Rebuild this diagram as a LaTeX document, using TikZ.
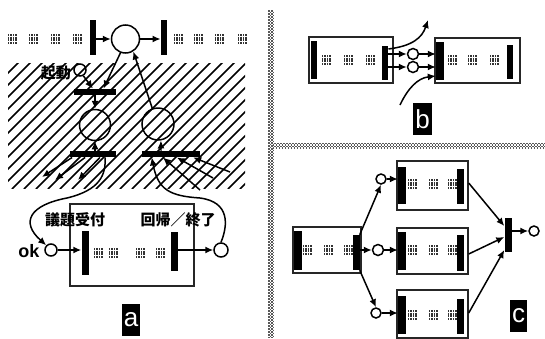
\documentclass[tikz,border=0pt]{standalone}
\usepackage{fontspec}
\newfontfamily\cjk{Noto Sans CJK JP}
\setmainfont{Liberation Sans}
\usetikzlibrary{arrows.meta,calc}
\tikzset{
  x=1pt,y=-1pt,
  bar/.style={rectangle,fill=black,draw=none,inner sep=0pt,minimum width=#1},
  vbar/.style args={#1 by #2}{bar=#1,minimum height=#2},
  hbar/.style args={#1 by #2}{bar=#1,minimum height=#2},
  place/.style={circle,draw=black,line width=1.5pt,inner sep=0pt,minimum size=#1},
  wplace/.style={place=#1,fill=white},
  boxnode/.style={rectangle,draw=black!85,line width=1.4pt,inner sep=0pt},
  arc/.style={line width=1.5pt,-{Latex[length=8pt,width=7pt]}},
  sepa/.style={line width=1.5pt,black!65,dash pattern=on 1.5pt off 1.5pt},
  sepb/.style={line width=1.5pt,black!65,dash pattern=on 1.5pt off 1.5pt,dash phase=1.5pt},
  tag/.style={rectangle,fill=black,text=white,inner sep=0pt,font=\fontsize{26}{26}\selectfont},
  jlabel/.style={inner sep=0pt,font=\cjk\bfseries\fontsize{15}{15}\selectfont},
  smudge/.pic={
    \foreach \d in {-3.5,-1,1.5,4}
      \draw[black!80,line width=1.5pt,dash pattern=on 2pt off 0.7pt] (\d,-5) -- (\d,5);
  }
}
\begin{document}
\begin{tikzpicture}
\useasboundingbox (0,0) rectangle (545,338);
\fill[white] (0,0) rectangle (545,338);
% hatching
\begin{scope}
\clip (8,63) rectangle (245,188);
\foreach \h in {-120,-108,...,245}
  \draw[line width=1.5pt] (\h,189) -- ++(127,-127);
\end{scope}
% separators
\coordinate (va) at (271,10);
\coordinate (vb) at (271,338);
\coordinate (ha) at (271,145.5);
\coordinate (hb) at (545,145.5);
\foreach \s/\k in {-2/sepa,-0.5/sepb,1/sepa,2.5/sepb} {
  \draw[\k] ($(va)+(\s,0)$) -- ($(vb)+(\s,0)$);
  \draw[\k] ($(ha)+(0,\s)$) -- ($(hb)+(0,\s)$);
}

% panel a, top
\node[vbar=6.5pt by 35pt] (t1) at (93,37) {};
\node[vbar=6.5pt by 35pt] (t2) at (164,37) {};
\node[wplace=28pt] (p0) at (125.5,39) {};
\foreach \x in {12,33,55,77,178,198,219,242} \pic at (\x,39) {smudge};
\draw[arc] (t1.east |- p0) -- (p0);
\draw[arc] (p0) -- (t2.west |- p0);

\node[place=12pt] (start) at (80,70) {};
\node[jlabel,anchor=east] (lstart) at (71,73) {起動};
\node[hbar=42pt by 6.5pt] (b1) at (95,92) {};
\node[place=31pt] (p1) at (95,125) {};
\node[hbar=46pt by 6.5pt] (b2) at (93,154) {};
\node[place=32pt] (p2) at (158,124) {};
\node[hbar=58pt by 6.5pt] (b3) at (171,154) {};
\draw[arc] (p0.250) -- ($(b1.north west)!0.7!(b1.north east)$);
\draw[arc] (start.300) -- ($(b1.north west)!0.45!(b1.north east)$);
\draw[arc] (b1) -- (p1);
\draw[arc] (b2.north -| p1) -- (p1);
\draw[arc] (p2.110) -- (p0.-58);
\draw[arc] (b3.north -| 161,0) -- (p2.-80);

\coordinate (o1) at (42,177);
\coordinate (o2) at (55,180);
\coordinate (o3) at (78,180);
\coordinate (i1) at (230,172);
\coordinate (i2) at (213,178);
\coordinate (i3) at (200,190);
\draw[arc] ($(b2.south west)!0.05!(b2.south east)$) -- (o1);
\draw[arc] ($(b2.south west)!0.33!(b2.south east)$) -- (o2);
\draw[arc] ($(b2.south west)!0.65!(b2.south east)$) -- (o3);
\draw[arc] (i1) -- ($(b3.south west)!0.88!(b3.south east)$);
\draw[arc] (i2) -- ($(b3.south west)!0.6!(b3.south east)$);
\draw[arc] (i3) -- ($(b3.south west)!0.36!(b3.south east)$);

% panel a, box
\node[boxnode,minimum width=124pt,minimum height=82pt] (boxa) at (132,245) {};
\node[vbar=7pt by 44pt] (ba1) at (85,253) {};
\node[vbar=7pt by 39pt] (ba2) at (174,251.5) {};
\node[wplace=12pt] (ok) at (51,250) {};
\node[wplace=14pt] (end) at (221,250) {};
\node[inner sep=0pt,font=\bfseries\fontsize{18}{18}\selectfont] (lok) at (29,251) {ok};
\node[jlabel] (l1) at (75,220) {議題受付};
\node[jlabel] (l2) at (178,220) {回帰／終了};
\foreach \x in {98,113,140,160} \pic at (\x,253) {smudge};
\draw[arc] (ok) -- (ba1.west |- ok);
\draw[arc] (ba2.east |- end) -- (end);
\draw[line width=1.5pt,-{Latex[length=8pt,width=7pt]}] ($(b2.south west)!0.76!(b2.south east)$) .. controls (106,175) and (100,190) .. (67,198)
   .. controls (30,205) and (20,222) .. (ok.north west);
\draw[arc] (end.north) .. controls (228,225) and (230,202) .. (200,198)
   .. controls (170,196) and (158,190) .. ($(b3.south west)!0.17!(b3.south east)$);
\node[tag,minimum width=18pt,minimum height=32pt] (ta) at (131,320) {a};

% panel b
\node[boxnode,minimum width=84pt,minimum height=46pt] (bx1) at (351,60) {};
\node[boxnode,minimum width=85pt,minimum height=45pt] (bx2) at (477.5,60.5) {};
\node[vbar=6.5pt by 38pt] (b1l) at (314,60) {};
\node[vbar=6.5pt by 34pt] (b1r) at (385,63) {};
\node[vbar=8pt by 38pt] (b2l) at (440,61) {};
\node[vbar=6.5pt by 34pt] (b2r) at (510,62) {};
\foreach \x in {326,348,370,452,472,494} \pic at (\x,60) {smudge};
\node[wplace=11pt] (u1) at (413,54) {};
\node[wplace=11pt] (u2) at (413,67) {};
\draw[arc] (b1r.east |- u1) -- (u1);
\draw[arc] (b1r.east |- u2) -- (u2);
\draw[arc] (u1) -- (b2l.west |- u1);
\draw[arc] (u2) -- (b2l.west |- u2);
\coordinate (bout) at (428,20);
\coordinate (bin) at (400,105);
\draw[arc] (b1r.east |- 0,49) .. controls (412,46) and (422,38) .. (bout);
\draw[arc] (bin) .. controls (408,88) and (418,78) .. (b2l.west |- 0,76);
\node[tag,minimum width=19pt,minimum height=32pt] (tb) at (422.5,119) {b};

% panel c
\node[boxnode,minimum width=68pt,minimum height=46pt] (c0) at (327,250) {};
\node[boxnode,minimum width=71pt,minimum height=49pt] (c1) at (432.5,185.5) {};
\node[boxnode,minimum width=71pt,minimum height=46pt] (c2) at (432.5,251) {};
\node[boxnode,minimum width=71pt,minimum height=48pt] (c3) at (432.5,314) {};
\node[vbar=8pt by 39pt] (c0l) at (298,250.5) {};
\node[vbar=7pt by 35pt] (c0r) at (356,252.5) {};
\node[vbar=8pt by 37pt] (c1l) at (402,185.5) {};
\node[vbar=7pt by 35pt] (c1r) at (460,186.5) {};
\node[vbar=8pt by 38pt] (c2l) at (402,251) {};
\node[vbar=7pt by 36pt] (c2r) at (460,253) {};
\node[vbar=8pt by 38pt] (c3l) at (402,315) {};
\node[vbar=7pt by 35pt] (c3r) at (460,316.5) {};
\foreach \x in {307,328,348} \pic at (\x,250) {smudge};
\foreach \x in {412,433,452} {
  \pic at (\x,184) {smudge};
  \pic at (\x,250) {smudge};
  \pic at (\x,315) {smudge};
}
\node[wplace=10pt] (v1) at (381,179) {};
\node[wplace=11pt] (v2) at (378,250) {};
\node[wplace=10pt] (v3) at (376,313) {};
\node[vbar=7pt by 34pt] (cj) at (508,235) {};
\node[wplace=10pt] (vo) at (534,231) {};
\draw[arc] (c0r.north east) -- (v1.south);
\draw[arc] (c0r.east |- v2) -- (v2);
\draw[arc] (c0r.south east) -- (v3.north);
\draw[arc] (v1) -- (c1l.west |- v1);
\draw[arc] (v2) -- (c2l.west |- v2);
\draw[arc] (v3) -- (c3l.west |- v3);
\draw[arc] (c1.east |- 0,183) -- (cj.west |- 0,226);
\draw[arc] (c2.east |- 0,254) -- (cj.west |- 0,237);
\draw[arc] (c3.east |- 0,313) -- (cj.west |- 0,250);
\draw[arc] (cj.east |- vo) -- (vo);
\node[tag,minimum width=17pt,minimum height=32pt] (tc) at (518.5,316) {c};
\end{tikzpicture}
\end{document}
